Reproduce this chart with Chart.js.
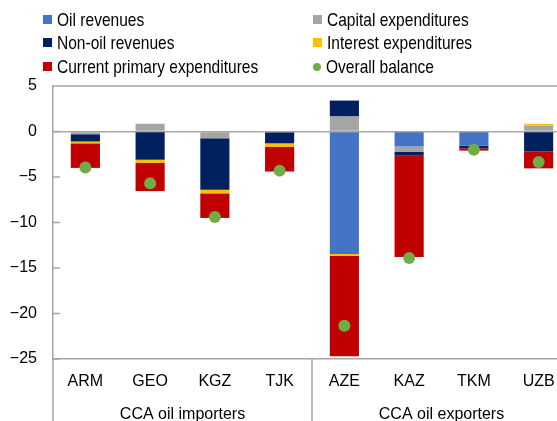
<!DOCTYPE html>
<html>
<head>
<meta charset="utf-8">
<script src="https://cdn.jsdelivr.net/npm/chart.js@4/dist/chart.umd.min.js"></script>
<style>
  html, body { margin: 0; padding: 0; background: #fff; overflow: hidden; width: 557px; height: 421px; }
  #wrap { position: relative; width: 585px; height: 421px; }
  #chart { position: absolute; left: 0; top: 0; }
  .legend { position: absolute; font-family: "Liberation Sans", Arial, sans-serif; font-size: 18.5px; color: #000; white-space: nowrap; line-height: 20px; }
  .legend .mk { display: inline-block; width: 9px; height: 9px; margin-right: 5px; vertical-align: 2px; }
  .legend .dot { border-radius: 50%; width: 8px; height: 8px; }
  .legend .txt { display: inline-block; transform: scaleX(0.84); transform-origin: left center; }
</style>
</head>
<body>
<div id="wrap">
  <canvas id="chart" width="585" height="421"></canvas>
  <div id="legend"></div>
</div>
<script>
// Categories and groups
const categories = ['ARM', 'GEO', 'KGZ', 'TJK', 'AZE', 'KAZ', 'TKM', 'UZB'];
const groups = ['CCA oil importers', 'CCA oil exporters'];

// Contributions (percent of GDP)
const oilRevenues    = [0, 0, 0, 0, -13.45, -1.65, -1.55, 0];
const capitalExp     = [-0.3, 0.85, -0.75, -0.1, 1.65, -0.6, 0, 0.65];
const nonOilRevenues = [-0.8, -3.1, -5.65, -1.2, 1.75, -0.4, -0.3, -2.2];
const interestExp    = [-0.2, -0.35, -0.4, -0.4, -0.2, 0, 0, 0.2];
const currentExp     = [-2.7, -3.1, -2.7, -2.7, -11.05, -11.15, -0.25, -1.85];
const overallBalance = [-3.95, -5.7, -9.4, -4.3, -21.35, -13.9, -2.0, -3.35];

const yTicks = [5, 0, -5, -10, -15, -20, -25];

const colors = {
  oil: '#4472C4',
  nonOil: '#002060',
  current: '#C00000',
  capital: '#A5A5A5',
  interest: '#FFC000',
  overall: '#70AD47'
};
const axisGrey = '#A6A6A6';

// HTML legend, two columns
const legendItems = [
  { label: 'Oil revenues', color: colors.oil, x: 43, y: 10 },
  { label: 'Non-oil revenues', color: colors.nonOil, x: 43, y: 33 },
  { label: 'Current primary expenditures', color: colors.current, x: 43, y: 57 },
  { label: 'Capital expenditures', color: colors.capital, x: 313, y: 10 },
  { label: 'Interest expenditures', color: colors.interest, x: 313, y: 33 },
  { label: 'Overall balance', color: colors.overall, x: 313, y: 57, dot: true }
];
const legendEl = document.getElementById('legend');
legendItems.forEach(item => {
  const div = document.createElement('div');
  div.className = 'legend';
  div.style.left = item.x + 'px';
  div.style.top = item.y + 'px';
  div.innerHTML = `<span class="mk${item.dot ? ' dot' : ''}" style="background:${item.color}"></span><span class="txt">${item.label}</span>`;
  legendEl.appendChild(div);
});

// Extra axis decorations: top border, inner ticks, group separators
const decorations = {
  id: 'decorations',
  afterDraw(chart) {
    const { ctx, chartArea, scales } = chart;
    const y = scales.y;
    ctx.save();
    ctx.strokeStyle = axisGrey;
    ctx.lineWidth = 1.5;
    ctx.beginPath();
    ctx.moveTo(chartArea.left, chartArea.top);
    ctx.lineTo(chartArea.right, chartArea.top);
    yTicks.forEach(v => {
      const py = y.getPixelForValue(v);
      ctx.moveTo(chartArea.left, py);
      ctx.lineTo(chartArea.left + 7, py);
    });
    const step = (chartArea.right - chartArea.left) / categories.length;
    [0, 4, 8].forEach(i => {
      const px = chartArea.left + i * step;
      ctx.moveTo(px, chartArea.bottom);
      ctx.lineTo(px, chart.height);
    });
    ctx.stroke();
    ctx.restore();
  }
};

const barOpts = { stack: 'fiscal', barPercentage: 0.45, categoryPercentage: 1 };
const tickFont = { family: 'Liberation Sans', size: 16 };

new Chart(document.getElementById('chart'), {
  type: 'bar',
  data: {
    labels: categories,
    datasets: [
      { label: 'Overall balance', type: 'line', data: overallBalance, stack: 'balance',
        showLine: false, pointRadius: 6, pointHoverRadius: 6, pointBackgroundColor: colors.overall,
        pointBorderWidth: 0, borderColor: colors.overall, order: 0 },
      { label: 'Oil revenues', data: oilRevenues, backgroundColor: colors.oil, order: 1, ...barOpts },
      { label: 'Capital expenditures', data: capitalExp, backgroundColor: colors.capital, order: 1, ...barOpts },
      { label: 'Non-oil revenues', data: nonOilRevenues, backgroundColor: colors.nonOil, order: 1, ...barOpts },
      { label: 'Interest expenditures', data: interestExp, backgroundColor: colors.interest, order: 1, ...barOpts },
      { label: 'Current primary expenditures', data: currentExp, backgroundColor: colors.current, order: 1, ...barOpts }
    ]
  },
  options: {
    responsive: false,
    animation: false,
    devicePixelRatio: 1,
    layout: { padding: { top: 86, right: 14, left: 0, bottom: 0 } },
    plugins: { legend: { display: false }, tooltip: { enabled: false } },
    scales: {
      y: {
        stacked: true,
        min: -25,
        max: 5,
        afterFit(scale) { scale.width = 53; },
        afterBuildTicks(scale) { scale.ticks = yTicks.map(v => ({ value: v })); },
        ticks: {
          padding: 16,
          color: '#000',
          font: tickFont,
          callback: v => String(v).replace('-', '\u2212')
        },
        grid: {
          drawTicks: false,
          lineWidth: 1.5,
          color: c => (c.tick && c.tick.value === 0 ? axisGrey : 'rgba(0,0,0,0)')
        },
        border: { display: true, color: axisGrey, width: 1.5 }
      },
      x: {
        stacked: true,
        afterFit(scale) { scale.height = 33; },
        ticks: { padding: 5, color: '#000', font: tickFont },
        grid: { display: false },
        border: { display: true, color: axisGrey, width: 1.5 }
      },
      x2: {
        type: 'category',
        labels: groups,
        position: 'bottom',
        offset: true,
        afterFit(scale) { scale.height = 29; },
        ticks: { padding: 5, color: '#000', font: tickFont },
        grid: { display: false },
        border: { display: false }
      }
    }
  },
  plugins: [decorations]
});
</script>
</body>
</html>
